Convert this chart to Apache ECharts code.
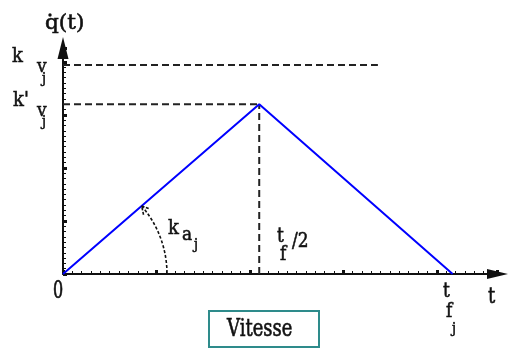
<!DOCTYPE html>
<html><head><meta charset="utf-8">
<script src="https://cdn.jsdelivr.net/npm/echarts@6/dist/echarts.min.js"></script>
<style>html,body{margin:0;padding:0;background:#fff}#c{width:510px;height:349px}</style>
</head><body><div id="c"></div>
<script>
// ---- data (axis units: 1 x-unit = one small tick, 1 y-unit = one small tick)
const timePoints = [0, 21, 41.7];        // 0, tf/2, tf
const velocityValues = [0, 32, 0];       // q̇(t) : triangular profile
const kvLevel = 39.4;                    // k_vj
const kvLineEnd = 33.7;                  // where the k_vj dashed line stops
const kvPrimeLevel = 32;                 // k'_vj
const halfTime = 21;                     // tf/2
const xMax = 46.5, yMax = 42.6;
const majorStep = 10, minorStep = 1;

const black = '#111';
const chart = echarts.init(document.getElementById('c'), null, {renderer: 'canvas'});

function makeAxis(kind, step, heavy) {
  const isX = kind === 'x';
  return {
    type: 'value', min: 0, max: isX ? xMax : yMax, interval: step,
    position: isX ? 'bottom' : 'left',
    axisLine: heavy ? {show: true, onZero: false, symbol: ['none', 'triangle'],
      symbolSize: isX ? [10, 21] : [11, 22], lineStyle: {color: black, width: 2}} : {show: false},
    axisTick: {show: true, inside: true, length: heavy ? 4 : 3,
      lineStyle: {color: black, width: heavy ? 3 : 1}},
    axisLabel: {show: false}, splitLine: {show: false}
  };
}

const dashStyle = {color: '#222', width: 2, type: [7, 4]};
function seg(data, style) {
  return {type: 'line', data: data, symbol: 'none', lineStyle: style, silent: true,
    xAxisIndex: 0, yAxisIndex: 0, z: 2};
}

chart.setOption({
  animation: false,
  grid: {left: 63, right: 12.5, top: 48, bottom: 75},
  xAxis: [makeAxis('x', majorStep, true), makeAxis('x', minorStep, false)],
  yAxis: [makeAxis('y', majorStep, true), makeAxis('y', minorStep, false)],
  series: [
    seg([[0, kvLevel], [kvLineEnd, kvLevel]], dashStyle),
    seg([[0, kvPrimeLevel], [halfTime, kvPrimeLevel]], dashStyle),
    seg([[halfTime, 0], [halfTime, kvPrimeLevel]], dashStyle),
    {name: 'Vitesse', type: 'line', symbol: 'none', z: 3,
     data: timePoints.map((t, i) => [t, velocityValues[i]]),
     lineStyle: {color: '#0000ff', width: 2}}
  ]
});

// ---- annotations
const FONT = '"DejaVu Serif", serif';
function txt(str, left, baseline, fs, sy, sx) {
  sy = sy || 1.2; sx = sx || 1;
  return {type: 'text', x: left, y: baseline - 0.33 * fs * sy, scaleX: sx, scaleY: sy, z: 10,
    style: {text: str, font: fs + 'px ' + FONT, fill: black, stroke: black, lineWidth: 0.5,
      align: 'left', verticalAlign: 'middle'}};
}

const o = chart.convertToPixel({xAxisIndex: 0, yAxisIndex: 0}, [0, 0]);
const p = chart.convertToPixel({xAxisIndex: 0, yAxisIndex: 0}, [timePoints[1], velocityValues[1]]);
const theta = Math.atan2(o[1] - p[1], p[0] - o[0]);
const r = 104;
const tip = [o[0] + r * Math.cos(theta), o[1] - r * Math.sin(theta)];
const back = [Math.sin(theta), Math.cos(theta)];
function rot(v, a) { return [v[0] * Math.cos(a) - v[1] * Math.sin(a), v[0] * Math.sin(a) + v[1] * Math.cos(a)]; }
const w1 = rot(back, 0.5), w2 = rot(back, -0.5);
const L = 9;

chart.setOption({
  graphic: [
    {type: 'arc', shape: {cx: o[0], cy: o[1], r: r, startAngle: -theta, endAngle: 0, clockwise: true},
     style: {stroke: black, lineWidth: 1.6, lineDash: [3, 2], fill: null}, z: 5},
    {type: 'polyline', shape: {points: [[tip[0] + w1[0] * L, tip[1] + w1[1] * L], tip, [tip[0] + w2[0] * L, tip[1] + w2[1] * L]]},
     style: {stroke: black, lineWidth: 1.6, lineDash: [3, 1.5], fill: null}, z: 5},
    // q̇(t)
    txt('q(t)', 45, 30, 18, 1.15, 1.2),
    {type: 'circle', shape: {cx: 50, cy: 15, r: 1.7}, style: {fill: black}, z: 10},
    // k_vj
    txt('k', 12, 63, 18, 1.1),
    txt('v', 37, 73, 17, 1.1),
    txt('j', 42, 84, 13, 1.2),
    // k'_vj
    txt("k'", 13, 107, 18, 1.1),
    txt('v', 37, 117, 17, 1.1),
    txt('j', 42, 127, 13, 1.2),
    // k_aj
    txt('k', 168, 235, 18, 1.1),
    txt('a', 182, 241, 17, 1.1),
    txt('j', 194, 250, 13, 1.2),
    // tf/2
    txt('t', 277, 243, 17, 1.2),
    txt('f', 280, 261, 17, 1.2),
    txt('/2', 292, 248, 17, 1.2),
    // tfj
    txt('t', 443, 298, 17, 1.2),
    txt('f', 446, 318, 17, 1.2),
    txt('j', 452, 334, 13, 1.2),
    // axis names
    txt('t', 488, 305, 18, 1.2),
    txt('0', 53, 300, 16, 1.45),
    // legend box
    {type: 'rect', shape: {x: 209, y: 311, width: 110, height: 36},
     style: {stroke: '#2e8b8b', lineWidth: 2, fill: '#fff'}, z: 9},
    txt('Vitesse', 227, 338, 18, 1.3)
  ]
});
</script></body></html>
